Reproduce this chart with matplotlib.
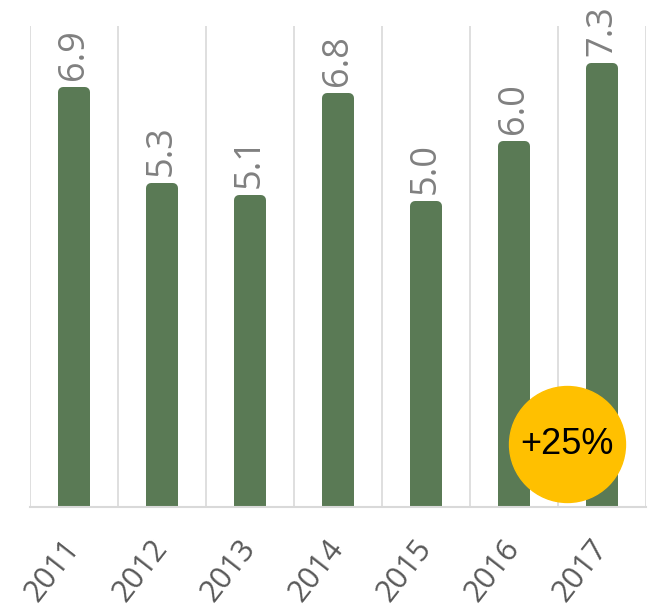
import numpy as np
import matplotlib
matplotlib.use("Agg")
import matplotlib.pyplot as plt

years = ["2011", "2012", "2013", "2014", "2015", "2016", "2017"]
values = [6.9, 5.3, 5.1, 6.8, 5.0, 6.0, 7.3]
change_label = "+25%"

bar_color = "#5a7a55"
grid_color = "#d9d9d9"

plt.rcParams['font.family'] = ['Open Sans', 'DejaVu Sans']

fig = plt.figure(figsize=(6.52, 6.14), dpi=100)
ax = fig.add_axes([30 / 652, 107 / 614, 616 / 652, 481 / 614])

x = np.arange(len(years))
# thick round-joined edge gives the rounded bar tops
bars = ax.bar(x, values, width=0.25, color=bar_color, edgecolor=bar_color,
              linewidth=7.2, joinstyle='round', zorder=3)

for xi, v in zip(x, values):
    ax.annotate(f"{v:.1f}", (xi, v), xytext=(0, 9), textcoords='offset points',
                rotation=90, ha='center', va='bottom', fontsize=26,
                color='#808080')

ax.set_xlim(-0.5, len(years) - 0.5)
ax.set_ylim(0, 8.0)
ax.set_yticks([])

ax.set_xticks(x)
ax.set_xticklabels(years, rotation=52, ha='right', va='center',
                   rotation_mode='anchor', fontsize=22, color='#595959')
ax.tick_params(axis='x', length=0, pad=26)

ax.set_xticks(np.arange(-0.5, len(years)), minor=True)
ax.tick_params(axis='x', which='minor', length=0)
ax.grid(axis='x', which='minor', color=grid_color, linewidth=1.2, zorder=0)
ax.grid(axis='x', which='major', visible=False)

for side in ['top', 'right', 'left']:
    ax.spines[side].set_visible(False)
ax.spines['bottom'].set_color(grid_color)
ax.spines['bottom'].set_linewidth(1.5)
ax.spines['bottom'].set_zorder(4)

# yellow callout circle
ax.scatter([0.872], [0.13], s=6970, color='#ffc000', transform=ax.transAxes,
           zorder=5, clip_on=False)
ax.text(0.872, 0.13, change_label, transform=ax.transAxes, ha='center',
        va='center', fontsize=26, family='Liberation Sans', color='black',
        zorder=6)

fig.savefig("out.png", dpi=100)
